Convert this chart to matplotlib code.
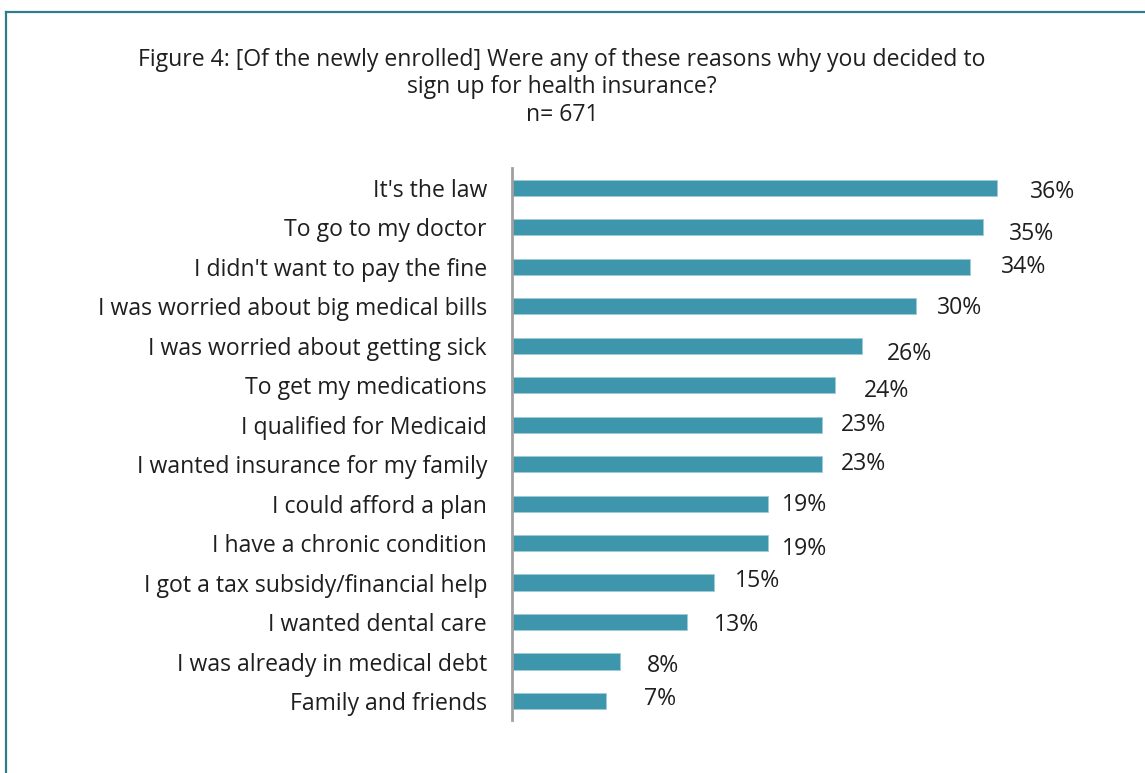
import matplotlib.pyplot as plt
from matplotlib.lines import Line2D

plt.rcParams['font.family'] = ['Open Sans', 'DejaVu Sans']

# Data
reasons = [
    "It's the law",
    "To go to my doctor",
    "I didn't want to pay the fine",
    "I was worried about big medical bills",
    "I was worried about getting sick",
    "To get my medications",
    "I qualified for Medicaid",
    "I wanted insurance for my family",
    "I could afford a plan",
    "I have a chronic condition",
    "I got a tax subsidy/financial help",
    "I wanted dental care",
    "I was already in medical debt",
    "Family and friends",
]
pct = [36, 35, 34, 30, 26, 24, 23, 23, 19, 19, 15, 13, 8, 7]

# hand-placed label nudges in pixels (x from bar end, y from bar centre, +down)
label_dx = [33, 25, 31, 21, 25, 29, 19, 19, 14, 14, 21, 27, 27, 38]
label_dy = [4, 7, 0, 2, 8, 6, 0, 0, 1, 6, -2, 3, 4, -2]

W, H = 1145, 773
fig = plt.figure(figsize=(W / 100, H / 100), dpi=100)

# teal frame (only top and left edges are visible in the crop)
frame_col = '#2f7c8e'
fig.add_artist(Line2D([6 / W, 1], [1 - 12 / H, 1 - 12 / H], color=frame_col, lw=1.6))
fig.add_artist(Line2D([6 / W, 6 / W], [0, 1 - 12 / H], color=frame_col, lw=1.6))

ax_l, ax_r, ax_t, ax_b = 512, 1100, 168, 720
ax = fig.add_axes([ax_l / W, 1 - ax_b / H, (ax_r - ax_l) / W, (ax_b - ax_t) / H])

y = list(range(len(reasons)))
ax.barh(y, pct, height=0.41, color='#3d96ab', edgecolor='#9fcbd6', linewidth=0.6)

px_per_pct = 13.47
ax.set_xlim(0, (ax_r - ax_l) / px_per_pct)
ax.set_ylim(len(reasons) - 0.52, -0.5)

fs = 16.6
txt_col = '#1f1f1f'
for i, v in enumerate(pct):
    ax.annotate(f"{v}%", xy=(v, i), xytext=(label_dx[i] * 0.72, -label_dy[i] * 0.72),
                textcoords='offset points', ha='left', va='center',
                fontsize=fs, color=txt_col)

ax.set_yticks(y)
ax.set_yticklabels(reasons, fontsize=fs, color=txt_col)
ax.tick_params(axis='y', length=0, pad=18)
ax.set_xticks([])
for s in ['top', 'right', 'bottom']:
    ax.spines[s].set_visible(False)
ax.spines['left'].set_color('#a0a0a0')
ax.spines['left'].set_linewidth(2)

tfs = 16.6
fig.text(562 / W, 1 - 60 / H,
         "Figure 4: [Of the newly enrolled] Were any of these reasons why you decided to",
         ha='center', va='center', fontsize=tfs, color=txt_col)
fig.text(562 / W, 1 - 87 / H, "sign up for health insurance?",
         ha='center', va='center', fontsize=tfs, color=txt_col)
fig.text(562 / W, 1 - 115 / H, "n= 671",
         ha='center', va='center', fontsize=tfs, color=txt_col)

fig.savefig('out.png', dpi=100)
